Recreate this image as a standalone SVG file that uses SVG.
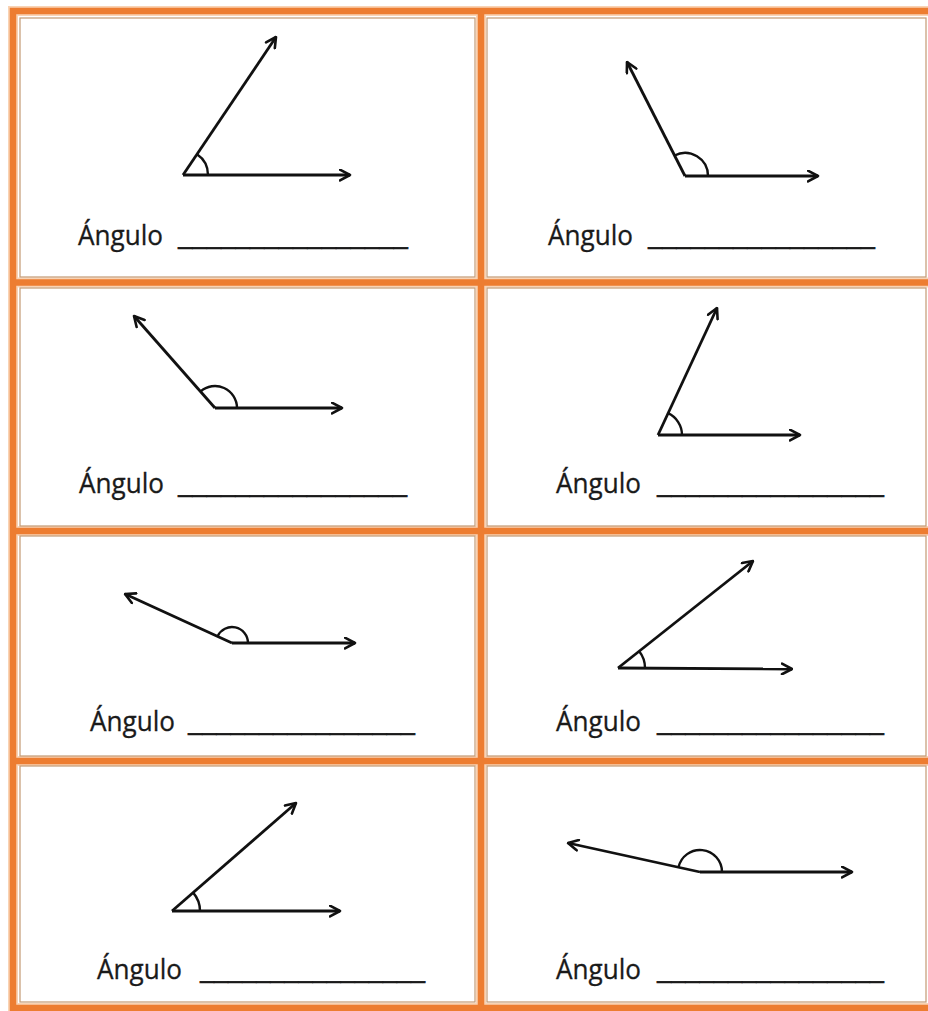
<svg xmlns="http://www.w3.org/2000/svg" width="928" height="1011" viewBox="0 0 928 1011">
<defs>
<marker id="arr" viewBox="0 0 13 13" refX="11.5" refY="6.5" markerWidth="13" markerHeight="13" markerUnits="userSpaceOnUse" orient="auto">
<path d="M1.5,1.2 L11.5,6.5 L1.5,11.8" fill="none" stroke="#111" stroke-width="2.6" stroke-linecap="round" stroke-linejoin="round"/>
</marker>
</defs>
<style>
.band{stroke:#ED7D31;stroke-width:6.5;fill:none}
.halo{stroke:#F9D3B4;stroke-width:10;fill:none}
.cell{fill:#fff;stroke:#C49A74;stroke-width:1.2}
.ray{stroke:#111;stroke-width:2.8;fill:none;marker-end:url(#arr)}
.arc{stroke:#111;stroke-width:2.4;fill:none}
.lbl{font-family:"Open Sans","Liberation Sans",sans-serif;font-size:27px;fill:#1a1a1a;stroke:#1a1a1a;stroke-width:0.3}
.line{font-family:"Open Sans","Liberation Sans",sans-serif;font-size:27px;fill:#1a1a1a;stroke:#1a1a1a;stroke-width:0.7}
</style>
<rect x="0" y="0" width="928" height="1011" fill="#fff"/>
<g id="frame">
<path class="halo" d="M13,1011 V11 H928 M481,11 V1011 M13,282.5 H928 M13,531 H928 M13,761 H928 M13,1008 H928"/>
<path class="band" d="M13,1011 V11 H928 M481,11 V1011 M13,282.5 H928 M13,531 H928 M13,761 H928 M13,1008 H928"/>
<rect class="cell" x="20" y="18" width="455" height="259"/>
<rect class="cell" x="487" y="18" width="439" height="259"/>
<rect class="cell" x="20" y="288" width="455" height="238"/>
<rect class="cell" x="487" y="288" width="439" height="238"/>
<rect class="cell" x="20" y="536" width="455" height="220"/>
<rect class="cell" x="487" y="536" width="439" height="220"/>
<rect class="cell" x="20" y="766" width="455" height="236"/>
<rect class="cell" x="487" y="766" width="439" height="236"/>
</g>
<g id="connectors">
<line class="ray" x1="183" y1="175" x2="350" y2="175"/>
<line class="ray" x1="183" y1="175" x2="276" y2="37"/>
<line class="ray" x1="685" y1="176" x2="818" y2="176"/>
<line class="ray" x1="685" y1="176" x2="627" y2="62"/>
<line class="ray" x1="215" y1="408" x2="342" y2="408"/>
<line class="ray" x1="215" y1="408" x2="134" y2="316"/>
<line class="ray" x1="658" y1="435" x2="800" y2="435"/>
<line class="ray" x1="658" y1="435" x2="717" y2="308"/>
<line class="ray" x1="232" y1="643" x2="355" y2="643"/>
<line class="ray" x1="232" y1="643" x2="125" y2="594"/>
<line class="ray" x1="618" y1="668" x2="792" y2="669"/>
<line class="ray" x1="618" y1="668" x2="753" y2="561"/>
<line class="ray" x1="172" y1="911" x2="340" y2="911"/>
<line class="ray" x1="172" y1="911" x2="296" y2="803"/>
<line class="ray" x1="700" y1="872" x2="852" y2="872"/>
<line class="ray" x1="700" y1="872" x2="568" y2="843"/>
</g>
<g id="angle1">
<path class="arc" d="M208,175 A25,25 0 0 0 197,154.3"/>
<text class="lbl" x="78" y="245" textLength="85" lengthAdjust="spacingAndGlyphs">Ángulo</text>
<text class="line" x="178" y="245" textLength="230" lengthAdjust="spacingAndGlyphs">________________</text>
</g>
<g id="angle2">
<path class="arc" d="M708,176 A23,23 0 0 0 674.5,155.5"/>
<text class="lbl" x="548" y="245" textLength="85" lengthAdjust="spacingAndGlyphs">Ángulo</text>
<text class="line" x="648" y="245" textLength="227" lengthAdjust="spacingAndGlyphs">________________</text>
</g>
<g id="angle3">
<path class="arc" d="M237,408 A22,22 0 0 0 200.5,391.5"/>
<text class="lbl" x="79" y="493" textLength="85" lengthAdjust="spacingAndGlyphs">Ángulo</text>
<text class="line" x="178" y="493" textLength="229" lengthAdjust="spacingAndGlyphs">________________</text>
</g>
<g id="angle4">
<path class="arc" d="M682,435 A24,24 0 0 0 668,413.2"/>
<text class="lbl" x="556" y="493" textLength="85" lengthAdjust="spacingAndGlyphs">Ángulo</text>
<text class="line" x="657" y="493" textLength="227" lengthAdjust="spacingAndGlyphs">________________</text>
</g>
<g id="angle5">
<path class="arc" d="M248,643 A16,16 0 0 0 217.5,636.3"/>
<text class="lbl" x="90" y="731" textLength="85" lengthAdjust="spacingAndGlyphs">Ángulo</text>
<text class="line" x="188" y="731" textLength="227" lengthAdjust="spacingAndGlyphs">________________</text>
</g>
<g id="angle6">
<path class="arc" d="M645,668 A27,27 0 0 0 639.2,651.2"/>
<text class="lbl" x="556" y="731" textLength="85" lengthAdjust="spacingAndGlyphs">Ángulo</text>
<text class="line" x="657" y="731" textLength="227" lengthAdjust="spacingAndGlyphs">________________</text>
</g>
<g id="angle7">
<path class="arc" d="M200,911 A28,28 0 0 0 193.1,892.6"/>
<text class="lbl" x="97" y="979" textLength="85" lengthAdjust="spacingAndGlyphs">Ángulo</text>
<text class="line" x="200" y="979" textLength="225" lengthAdjust="spacingAndGlyphs">________________</text>
</g>
<g id="angle8">
<path class="arc" d="M722,872 A22,22 0 0 0 678.5,867.3"/>
<text class="lbl" x="556" y="979" textLength="85" lengthAdjust="spacingAndGlyphs">Ángulo</text>
<text class="line" x="657" y="979" textLength="227" lengthAdjust="spacingAndGlyphs">________________</text>
</g>
</svg>
